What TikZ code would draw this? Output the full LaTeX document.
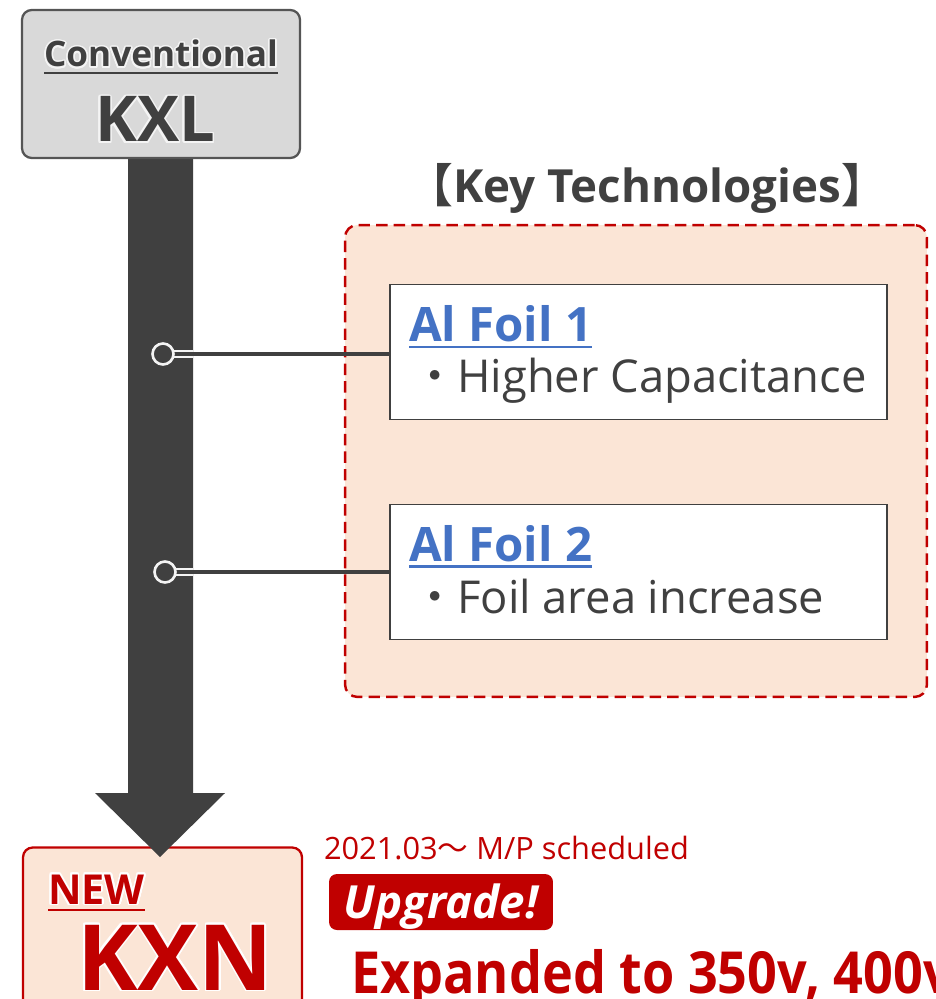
\documentclass[tikz,border=0pt]{standalone}
\usepackage{fontspec}
\usepackage[copies]{contour}
\setmainfont{Open Sans}
\newfontfamily\cjk{Noto Sans CJK JP}
\usetikzlibrary{calc}
\definecolor{dg}{HTML}{404040}
\definecolor{bg}{HTML}{555555}
\definecolor{lg}{HTML}{D9D9D9}
\definecolor{pch}{HTML}{FBE5D6}
\definecolor{rd}{HTML}{C00000}
\definecolor{bl}{HTML}{4472C4}
\definecolor{glow}{HTML}{F4F4F4}
\newcommand\fsz[1]{\fontsize{#1}{#1}\selectfont}
\contourlength{0.9pt}
\contournumber{24}
\tikzset{
  txt/.style={inner sep=0pt, outer sep=0pt},
  techbox/.style={draw=dg, fill=white, line width=1.1pt, minimum width=9.94cm, minimum height=2.7cm, inner sep=0pt},
  foiltitle/.style={txt, anchor=base west, text=bl, font=\bfseries\fsz{27}},
  foiltext/.style={txt, anchor=base west, text=dg, font=\fsz{25.8}},
  dotnode/.style={circle, fill=dg, draw=glow, line width=1.5pt, minimum size=0.42cm, inner sep=0pt},
  link/.style={dg, line width=2pt},
  halo/.style={glow, line width=4.5pt},
}
\begin{document}
\begin{tikzpicture}[x=0.02cm, y=-0.02cm]
\useasboundingbox (0,0) rectangle (935,999);

% key technologies region
\node[draw=rd, fill=pch, dashed, dash pattern=on 6.5pt off 3.5pt, line width=1.4pt,
      rounded corners=7pt, minimum width=11.64cm, minimum height=9.44cm] (region) at (636,461) {};
\node[txt, anchor=base, text=dg, font=\bfseries\fsz{26}] (keyt) at (647,203)
  {{\cjk 【}Key Technologies{\cjk 】}};

% new box
\node[draw=rd, fill=pch, line width=1.3pt, rounded corners=5.5pt,
      minimum width=5.58cm, minimum height=3.3cm] (kxn) at (162.5,930) {};

% big arrow
\fill[dg] (128,150) -- (193,150) -- (193,793) -- (225,793) -- (160,857)
  -- (95,793) -- (128,793) -- cycle;

% conventional box
\node[draw=bg, fill=lg, line width=1.3pt, rounded corners=5.5pt,
      minimum width=5.56cm, minimum height=2.96cm] (conv) at (161,84) {};
\node[txt, anchor=base, text=dg, font=\bfseries\fsz{20}] (convt) at (161,67) {\contour{glow}{Conventional}};
\draw[dg, line width=1.1pt] ([yshift=-3.4pt]convt.base west) -- ([yshift=-3.4pt]convt.base east);
\node[txt, anchor=base, text=dg, font=\bfseries\fsz{36}] (kxl) at (155,142) {\contour{glow}{KXL}};

% technology boxes
\node[techbox] (box1) at (638.5,352) {};
\node[techbox] (box2) at (638.5,572) {};
\node[foiltitle] (f1) at (409,342) {Al Foil 1};
\draw[bl, line width=1.4pt] ([yshift=-3pt]f1.base west) -- ([yshift=-3pt]f1.base east);
\node[foiltext] (t1) at (412,393) {{\cjk ・}Higher Capacitance};
\node[foiltitle] (f2) at (409,561) {Al Foil 2};
\draw[bl, line width=1.4pt] ([yshift=-3pt]f2.base west) -- ([yshift=-3pt]f2.base east);
\node[foiltext] (t2) at (412,613) {{\cjk ・}Foil area increase};

% connectors
\coordinate (d1) at (163,354);
\coordinate (d2) at (165,572);
\coordinate (aedge) at (193,0);
\draw[halo] (d1) -- (d1 -| aedge);
\draw[halo] (d2) -- (d2 -| aedge);
\draw[link] (d1) -- (d1 -| box1.west);
\draw[link] (d2) -- (d2 -| box2.west);
\node[dotnode] (dot1) at (d1) {};
\node[dotnode] (dot2) at (d2) {};

% new KXN text
\node[txt, anchor=base west, text=rd, font=\bfseries\fsz{23.5}] (newt) at (48,904) {\contour{white}{NEW}};
\draw[rd, line width=1.4pt] ([yshift=-3.4pt]newt.base west) -- ([yshift=-3.4pt]newt.base east);
\node[txt, anchor=base, text=rd, font=\bfseries\fsz{52}] (kxnt) at (175,990) {\contour{white}{KXN}};

% schedule and upgrade
\node[txt, anchor=base west, text=rd, font=\fsz{17.5}] (sched) at (324,859) {2021.03{\cjk ～} M/P scheduled};
\node[fill=rd, rounded corners=4.5pt, minimum width=4.48cm, minimum height=1.12cm] (upg) at (441,902) {};
\node[txt, anchor=base, text=white, font=\bfseries\itshape\fsz{26}] (upgt) at (441,918) {Upgrade!};
\node[txt, anchor=base west, text=rd, font=\bfseries\fsz{33}] (exp) at (351,993) {\scalebox{0.9}[1]{Expanded to 350v, 400v}};
\end{tikzpicture}
\end{document}
